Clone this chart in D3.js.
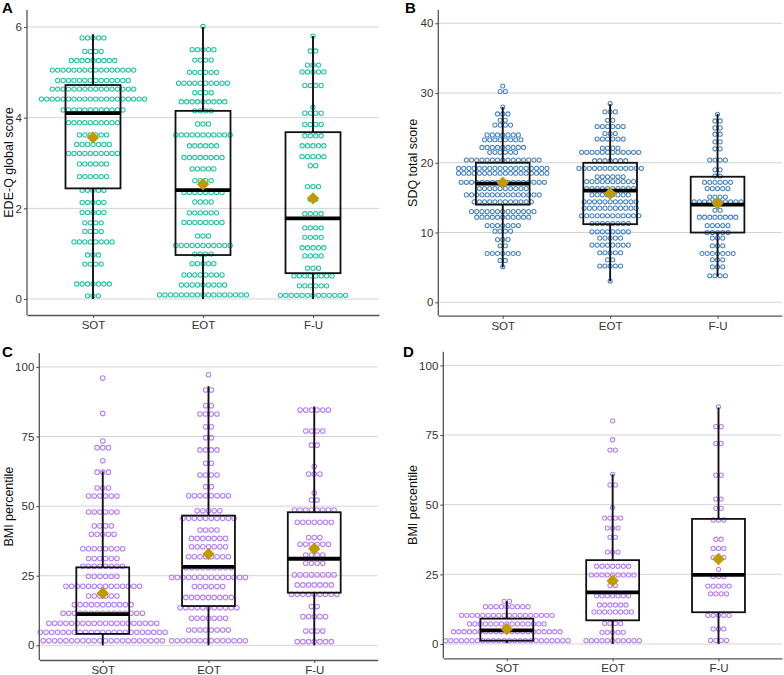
<!DOCTYPE html>
<html><head><meta charset="utf-8">
<script src="https://cdn.jsdelivr.net/npm/d3@7"></script>
<style>
body{margin:0;background:#fff}
svg{display:block}
text{font-family:"Liberation Sans",Arial,sans-serif}
</style>
</head><body>
<svg id="chart" width="784" height="675"></svg>
<script>
// ---------------- DATA ----------------
const categories = ["SOT", "EOT", "F-U"];

// Panel A: EDE-Q global score, dot stacks as [bin value, count]
const edeqSOT = [[5.76,5],[5.46,4],[5.26,9],[5.05,16],[4.82,14],[4.63,16],[4.41,20],[4.17,12],[3.89,10],[3.62,6],[3.41,7],[3.21,10],[2.98,6],[2.70,6],[2.40,5],[2.13,5],[1.91,5],[1.68,4],[1.49,4],[1.26,8],[0.97,3],[0.77,4],[0.33,7],[0.07,3]];
const edeqEOT = [[6.01,1],[5.50,5],[5.27,4],[5.00,6],[4.76,10],[4.55,4],[4.35,9],[4.15,4],[3.86,3],[3.62,11],[3.38,6],[3.12,8],[2.87,5],[2.61,4],[2.35,8],[2.14,4],[1.90,6],[1.69,8],[1.39,3],[1.18,11],[0.99,4],[0.78,5],[0.53,8],[0.31,9],[0.09,17]];
const edeqFU  = [[5.80,1],[5.47,2],[5.16,3],[5.01,5],[4.71,4],[4.23,1],[4.10,4],[3.85,4],[3.60,4],[3.38,5],[3.14,5],[2.94,2],[2.48,3],[2.20,2],[1.88,4],[1.57,4],[1.36,4],[1.13,5],[0.95,4],[0.68,3],[0.51,8],[0.29,6],[0.08,13]];
// box stats: [q1, median, q3, whisker low, whisker high, mean]
const edeqBox = [[2.44,4.10,4.72,0,5.84,3.56],[0.97,2.40,4.15,0,6.0,2.53],[0.57,1.78,3.68,0,5.80,2.22]];
const edeqTicks = [0, 2, 4, 6];

// Panel B: SDQ total score
const sdqSOT = [[31.0,1],[30.2,2],[28.0,1],[27.0,3],[26.1,2],[25.4,4],[24.0,7],[23.3,8],[22.2,9],[21.5,6],[20.4,15],[19.2,18],[18.5,18],[17.2,17],[16.3,10],[15.4,15],[14.4,12],[13.0,13],[12.2,11],[11.0,7],[10.2,4],[9.0,3],[8.1,2],[7.0,7],[6.0,2],[5.1,1]];
const sdqEOT = [[28.5,1],[27.3,3],[26.1,2],[25.2,6],[24.2,3],[23.4,6],[22.1,4],[21.5,12],[20.3,7],[19.2,13],[18.0,6],[17.3,10],[16.3,10],[15.4,8],[14.4,11],[13.5,11],[12.4,12],[11.3,8],[10.1,8],[9.2,5],[8.2,8],[7.1,5],[6.1,2],[5.2,5],[3.05,1]];
const sdqFU  = [[26.95,1],[26.0,2],[25.0,2],[24.1,2],[23.0,2],[22.0,2],[20.4,4],[19.0,2],[18.1,2],[17.2,6],[16.3,5],[15.1,4],[14.4,10],[13.2,2],[12.2,8],[11.0,5],[10.0,5],[9.2,3],[8.1,3],[7.0,7],[6.1,3],[5.1,3],[3.8,4]];
const sdqBox = [[14.0,17.0,20.0,5.0,28.0,17.15],[11.2,16.0,20.0,3.0,28.4,15.6],[10.0,14.0,18.0,3.7,27.0,14.2]];
const sdqTicks = [0, 10, 20, 30, 40];

// Panel C: BMI percentile
const bmiCSOT = [[96.0,1],[83.3,1],[73.4,1],[71.0,3],[66.3,1],[62.2,3],[56.5,3],[53.6,6],[47.9,6],[42.9,4],[39.9,5],[34.7,8],[31.2,6],[28.4,8],[24.8,6],[21.2,14],[17.7,6],[14.6,11],[11.5,15],[7.9,20],[4.7,23],[1.6,22]];
const bmiCEOT = [[97.2,1],[91.7,2],[86.1,2],[83.1,4],[78.5,2],[74.6,2],[70.2,4],[65.4,2],[61.2,4],[57.0,2],[53.7,8],[48.3,5],[45.6,10],[41.4,4],[38.4,7],[35.4,7],[31.8,8],[27.9,9],[24.4,14],[21.1,6],[17.2,9],[13.5,11],[9.7,7],[5.5,8],[1.65,14]];
const bmiCFU  = [[84.5,6],[77.0,4],[71.9,2],[64.2,1],[61.5,3],[54.7,1],[52.2,2],[48.6,8],[44.2,7],[38.7,3],[36.3,6],[32.4,4],[29.5,4],[25.3,8],[21.7,7],[18.3,9],[13.9,2],[10.3,5],[5.1,4],[1.3,7]];
const bmiCBox = [[4.1,11.2,28.0,0,62.5,18.7],[14.1,28.2,46.6,0,93.1,32.8],[18.9,31.1,47.8,0,85.8,34.7]];

// Panel D: BMI percentile
const bmiDSOT = [[15.3,2],[13.4,9],[10.3,18],[7.2,15],[4.4,21],[1.2,24]];
const bmiDEOT = [[80.1,1],[73.3,1],[69.6,2],[60.9,1],[57.1,2],[48.9,1],[45.2,4],[41.6,3],[38.3,2],[33.0,3],[27.9,7],[24.8,9],[21.0,2],[17.3,7],[14.0,6],[11.5,8],[7.4,4],[4.2,5],[1.2,11]];
const bmiDFU  = [[85.1,1],[78.0,2],[72.0,2],[60.6,2],[52.0,2],[48.7,2],[44.5,3],[37.6,2],[34.3,3],[31.0,3],[26.8,1],[24.2,3],[20.8,5],[18.0,4],[10.3,5],[5.4,3],[1.3,4]];
const bmiDBox = [[1.2,4.9,9.1,0.3,15.4,5.4],[8.5,18.5,30.1,0,60.9,22.7],[11.4,24.8,44.9,0,84.9,30.5]];
const bmiTicks = [0, 25, 50, 75, 100];

// ---------------- LAYOUT ----------------
const panels = [
  {letter:"A", title:"EDE-Q global score", dots:[edeqSOT,edeqEOT,edeqFU], box:edeqBox, ticks:edeqTicks,
   left:27, right:379, top:10, bottom:315, domain:[-0.353,6.375], d:5.43, color:"#21c4a5",
   letterX:2, letterY:13, titleX:13},
  {letter:"B", title:"SDQ total score", dots:[sdqSOT,sdqEOT,sdqFU], box:sdqBox, ticks:sdqTicks,
   left:438.3, right:782, top:10, bottom:315.7, domain:[-1.92,41.9], d:5.2, color:"#4a86c2",
   letterX:405, letterY:13, titleX:417},
  {letter:"C", title:"BMI percentile", dots:[bmiCSOT,bmiCEOT,bmiCFU], box:bmiCBox, ticks:bmiTicks,
   left:39.3, right:377.7, top:353.3, bottom:660, domain:[-5.28,104.9], d:5.67, color:"#b77cfb",
   letterX:2, letterY:357, titleX:13},
  {letter:"D", title:"BMI percentile", dots:[bmiDSOT,bmiDEOT,bmiDFU], box:bmiDBox, ticks:bmiTicks,
   left:443.3, right:782, top:351.7, bottom:658.3, domain:[-5.13,104.9], d:5.33, color:"#b77cfb",
   letterX:403, letterY:357, titleX:417}
];

const svg = d3.select("#chart");
const axisColor = "#555";
const textColor = "#333";

panels.forEach(p => {
  const g = svg.append("g");
  const y = d3.scaleLinear().domain(p.domain).range([p.bottom, p.top]);
  const x = d3.scalePoint().domain(categories).range([p.left, p.right]).padding(0.6);

  // gridlines
  g.append("g").selectAll("line").data(p.ticks).join("line")
    .attr("x1", p.left).attr("x2", p.right)
    .attr("y1", t => y(t)).attr("y2", t => y(t))
    .attr("stroke", "#d3d3d3").attr("stroke-width", 1);

  // dots
  const r = p.d / 2 - 0.55;
  categories.forEach((c, ci) => {
    const pts = [];
    p.dots[ci].forEach(([v, n]) => {
      for (let i = 0; i < n; i++) pts.push({v, off: (i - (n - 1) / 2)});
    });
    g.append("g").selectAll("circle").data(pts).join("circle")
      .attr("cx", o => x(c) + o.off * p.d)
      .attr("cy", o => y(o.v))
      .attr("r", r)
      .attr("fill", "none")
      .attr("stroke", p.color)
      .attr("stroke-width", 1.05);
  });

  // boxplots
  const bw = x.step() * 0.5;
  categories.forEach((c, ci) => {
    const [q1, med, q3, wl, wh, mean] = p.box[ci];
    const cx = x(c);
    const bg = g.append("g");
    bg.append("line").attr("x1", cx).attr("x2", cx).attr("y1", y(q3)).attr("y2", y(wh))
      .attr("stroke", "#111").attr("stroke-width", 1.9);
    bg.append("line").attr("x1", cx).attr("x2", cx).attr("y1", y(q1)).attr("y2", y(wl))
      .attr("stroke", "#111").attr("stroke-width", 1.9);
    bg.append("rect").attr("x", cx - bw / 2).attr("width", bw)
      .attr("y", y(q3)).attr("height", y(q1) - y(q3))
      .attr("fill", "none").attr("stroke", "#111").attr("stroke-width", 1.8);
    bg.append("line").attr("x1", cx - bw / 2).attr("x2", cx + bw / 2).attr("y1", y(med)).attr("y2", y(med))
      .attr("stroke", "#000").attr("stroke-width", 3.8);
    const s = 6.2;
    bg.append("path")
      .attr("d", `M${cx},${y(mean) - s}L${cx + s},${y(mean)}L${cx},${y(mean) + s}L${cx - s},${y(mean)}Z`)
      .attr("fill", "#bf9b00");
  });

  // axes
  const ya = g.append("g").attr("transform", `translate(${p.left},0)`)
    .call(d3.axisLeft(y).tickValues(p.ticks).tickFormat(d3.format("d"))
      .tickSize(3).tickSizeOuter(0).tickPadding(2));
  const xa = g.append("g").attr("transform", `translate(0,${p.bottom})`)
    .call(d3.axisBottom(x).tickSize(3).tickSizeOuter(0).tickPadding(3));
  [ya, xa].forEach(a => {
    a.select(".domain").attr("stroke", axisColor).attr("stroke-width", 1.3);
    a.selectAll(".tick line").attr("stroke", axisColor).attr("stroke-width", 1.1);
    a.selectAll(".tick text").attr("fill", textColor).attr("font-size", 11.5)
      .attr("font-family", "Liberation Sans, Arial, sans-serif");
  });
  // extend y axis line to meet x axis
  ya.select(".domain").attr("d", `M0,${p.top}V${p.bottom}`);

  // y title
  g.append("text")
    .attr("transform", `translate(${p.titleX},${(p.top + p.bottom) / 2}) rotate(-90)`)
    .attr("text-anchor", "middle").attr("font-size", 12.5).attr("fill", "#111")
    .text(p.title);

  // panel letter
  g.append("text").attr("x", p.letterX).attr("y", p.letterY)
    .attr("font-size", 15).attr("font-weight", "bold").attr("fill", "#000")
    .text(p.letter);
});
</script>
</body></html>
